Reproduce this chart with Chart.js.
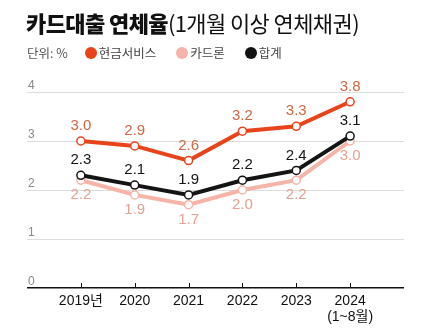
<!DOCTYPE html>
<html>
<head>
<meta charset="utf-8">
<script src="https://cdn.jsdelivr.net/npm/chart.js@4.4.1/dist/chart.umd.min.js"></script>
<style>
  html, body { margin: 0; padding: 0; background: #fff; }
  #wrap { position: relative; width: 430px; height: 328px; overflow: hidden; }
  #chart { position: absolute; left: 0; top: 0; }
  .title {
    position: absolute; left: 26px; top: 6px;
    font-family: "Noto Sans CJK KR", sans-serif; font-size: 22px; color: #111;
    letter-spacing: -0.6px; white-space: nowrap;
  }
  .title b { font-weight: 900; }
  .title span { font-weight: 400; }
  .legend {
    position: absolute; left: 27px; top: 43px;
    font-family: "Noto Sans CJK KR", sans-serif; font-size: 12.5px; color: #555;
    white-space: nowrap; display: flex; align-items: center;
  }
  .legend .dot { display: inline-block; width: 12px; height: 12px; border-radius: 50%; margin-right: 2px; }
  .legend .item { display: inline-flex; align-items: center; margin-left: 20px; color: #444; }
</style>
</head>
<body>
<div id="wrap">
  <canvas id="chart" width="430" height="328"></canvas>
  <div class="title"><b>카드대출 연체율</b><span>(1개월 이상 연체채권)</span></div>
  <div class="legend">
    <span>단위: %</span>
    <span class="item" style="margin-left:17px"><i class="dot" style="background:#e8441c"></i>현금서비스</span>
    <span class="item"><i class="dot" style="background:#f6b4a8"></i>카드론</span>
    <span class="item"><i class="dot" style="background:#111"></i>합계</span>
  </div>
</div>
<script>
// years, with blank slots at both ends for side spacing
const years = ["", "2019년", "2020", "2021", "2022", "2023", ["2024", "(1~8월)"], ""];
const cashService = [null, 3.0, 2.9, 2.6, 3.2, 3.3, 3.8, null];
const cardLoan = [null, 2.2, 1.9, 1.7, 2.0, 2.2, 3.0, null];
const total = [null, 2.3, 2.1, 1.9, 2.2, 2.4, 3.1, null];
const yTicks = [0, 1, 2, 3, 4];

const colors = {
  cash: "#e8441c",
  loan: "#f6b4a8",
  total: "#141414",
  cashText: "#cf6742",
  loanText: "#e3a293",
};

// value labels next to each point: above or below the marker
const pointLabels = {
  id: "pointLabels",
  afterDatasetsDraw(chart) {
    const ctx = chart.ctx;
    ctx.save();
    ctx.font = "15px 'Liberation Sans', Arial, sans-serif";
    ctx.textAlign = "center";
    ctx.textBaseline = "middle";
    chart.data.datasets.forEach((ds, i) => {
      const meta = chart.getDatasetMeta(i);
      meta.data.forEach((pt, j) => {
        const v = ds.data[j];
        if (v == null) return;
        ctx.fillStyle = ds.labelColor;
        ctx.fillText(v.toFixed(1), pt.x, pt.y + ds.labelShift);
      });
    });
    ctx.restore();
  },
};

// short tick marks rising from the x axis
const axisTicks = {
  id: "axisTicks",
  afterDraw(chart) {
    const ctx = chart.ctx;
    const x = chart.scales.x;
    const y0 = chart.scales.y.getPixelForValue(0);
    ctx.save();
    ctx.strokeStyle = "#111";
    ctx.lineWidth = 1;
    years.forEach((lab, i) => {
      if (lab === "") return;
      const px = Math.round(x.getPixelForValue(i)) + 0.5;
      ctx.beginPath();
      ctx.moveTo(px, y0 - 5);
      ctx.lineTo(px, y0);
      ctx.stroke();
    });
    ctx.restore();
  },
};

function series(label, data, color, textColor, shift, order) {
  return {
    label,
    data,
    order,
    borderColor: color,
    borderWidth: 4,
    pointRadius: 4,
    pointBorderWidth: 1.5,
    pointBackgroundColor: "#fff",
    pointBorderColor: color,
    tension: 0,
    clip: false,
    labelColor: textColor,
    labelShift: shift,
  };
}

new Chart(document.getElementById("chart"), {
  type: "line",
  data: {
    labels: years,
    datasets: [
      series("현금서비스", cashService, colors.cash, colors.cashText, -15, 1),
      series("카드론", cardLoan, colors.loan, colors.loanText, 15, 2),
      series("합계", total, colors.total, colors.total, -15, 0),
    ],
  },
  options: {
    responsive: false,
    animation: false,
    layout: { padding: { left: 27, right: 26, top: 92, bottom: 0 } },
    plugins: {
      legend: { display: false },
      tooltip: { enabled: false },
    },
    scales: {
      x: {
        offset: false,
        grid: { display: false, drawTicks: false },
        border: { display: false },
        afterFit: (scale) => { scale.height = 40; },
        ticks: {
          autoSkip: false,
          maxRotation: 0,
          padding: 5,
          color: "#111",
          font: { family: "'Liberation Sans', 'Noto Sans CJK KR', sans-serif", size: 14, lineHeight: 1.15 },
        },
      },
      y: {
        min: 0,
        max: 4,
        afterBuildTicks: (scale) => {
          scale.ticks = yTicks.map((v) => ({ value: v }));
        },
        afterFit: (scale) => { scale.width = 0; },
        border: { display: false },
        grid: {
          drawTicks: false,
          color: (c) => (c.tick && c.tick.value === 0 ? "#111" : "#dcdcdc"),
          lineWidth: (c) => (c.tick && c.tick.value === 0 ? 1.5 : 1),
        },
        ticks: {
          mirror: true,
          padding: 1,
          labelOffset: -6,
          color: "#888",
          font: { family: "'Liberation Sans', sans-serif", size: 12 },
        },
      },
    },
  },
  plugins: [pointLabels, axisTicks],
});
</script>
</body>
</html>
